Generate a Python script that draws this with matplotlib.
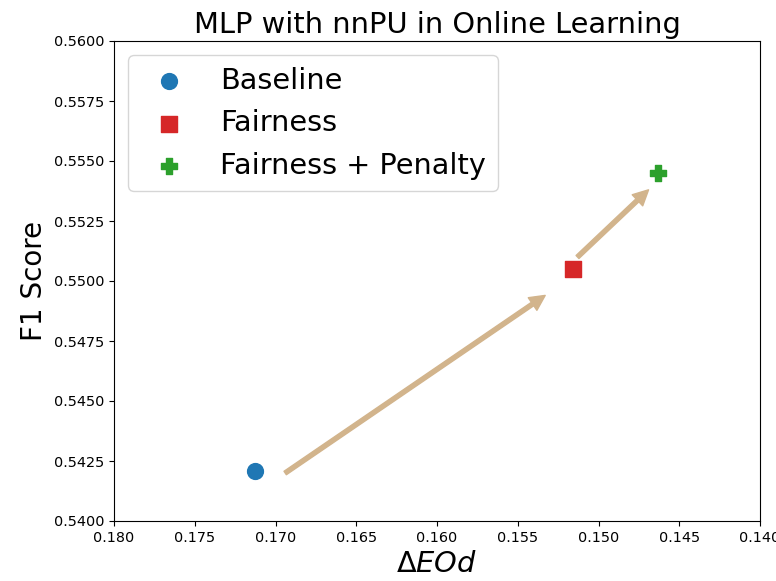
import matplotlib
matplotlib.use("Agg")
import matplotlib.pyplot as plt

# Results for each training setup
methods = ["Baseline", "Fairness", "Fairness + Penalty"]
eod_values = [0.1713, 0.1516, 0.1463]
f1_values = [0.5421, 0.5505, 0.5545]
markers = ["o", "s", "P"]
colors = ["tab:blue", "tab:red", "tab:green"]

# Arrows showing the progression between setups: (x_start, y_start, x_end, y_end)
arrow_x_start = [0.1694, 0.1513]
arrow_y_start = [0.5420, 0.5510]
arrow_x_end = [0.1533, 0.1469]
arrow_y_end = [0.5494, 0.5538]

fig = plt.figure(figsize=(7.76, 5.81), dpi=100)
ax = fig.add_axes([114 / 776, 1 - 521 / 581, (760 - 114) / 776, (521 - 41) / 581])

for m, x, y, mk, c in zip(methods, eod_values, f1_values, markers, colors):
    ax.scatter(x, y, marker=mk, color=c, s=130, label=m, zorder=3)

for xs, ys, xe, ye in zip(arrow_x_start, arrow_y_start, arrow_x_end, arrow_y_end):
    ax.annotate("", xy=(xe, ye), xytext=(xs, ys),
                arrowprops=dict(facecolor="tan", edgecolor="tan",
                                width=3, headwidth=11, headlength=11))

ax.set_xlim(0.180, 0.140)
ax.set_ylim(0.5400, 0.5600)
ax.set_xticks([0.180, 0.175, 0.170, 0.165, 0.160, 0.155, 0.150, 0.145, 0.140])
ax.set_yticks([0.5400, 0.5425, 0.5450, 0.5475, 0.5500, 0.5525, 0.5550, 0.5575, 0.5600])
ax.xaxis.set_major_formatter(matplotlib.ticker.FormatStrFormatter("%.3f"))
ax.yaxis.set_major_formatter(matplotlib.ticker.FormatStrFormatter("%.4f"))
ax.tick_params(labelsize=10.4)

ax.set_title("MLP with nnPU in Online Learning", fontsize=20.8)
ax.set_xlabel(r"$\Delta EOd$", fontsize=20.8)
ax.set_ylabel("F1 Score", fontsize=20)
ax.legend(loc="upper left", fontsize=20.7)

fig.savefig("out.png", dpi=100)
